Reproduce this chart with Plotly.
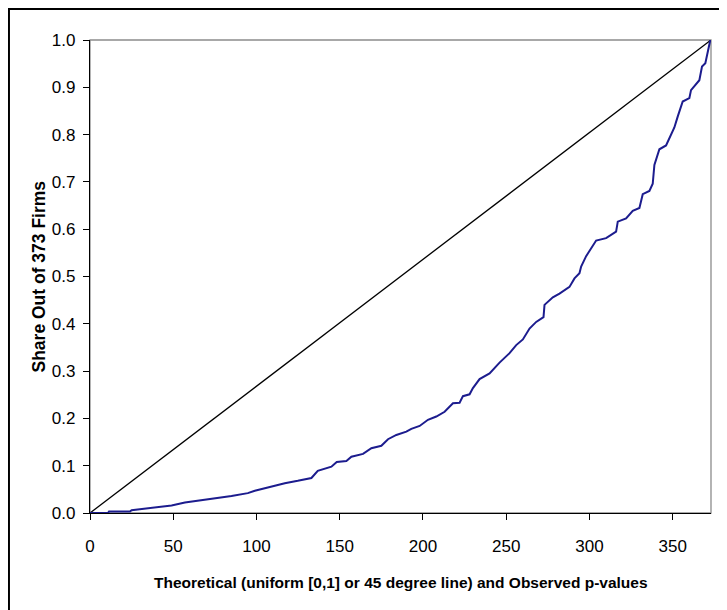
import plotly.graph_objects as go

# Observed sorted p-values (rank, share)
obs_rank = [0, 10.8, 11.4, 24, 25, 33, 40.8, 49, 57, 64.8, 75, 85, 94.8, 99, 106.8, 117,
            124.8, 133, 136.8, 145, 148.2, 154, 157, 164, 169, 175, 179, 184, 190, 193,
            198, 203, 208, 213, 218, 222, 224, 228, 230, 234, 240, 246, 252, 256, 260,
            264, 268, 272.4, 273, 278, 282, 288, 291, 294, 295, 298, 304, 310, 316, 317,
            322, 326, 330, 332, 336, 338, 339, 342, 346, 349, 351, 353, 356, 360, 361,
            366, 367.6, 369.6, 371, 372.4, 373]
obs_share = [0, 0, 0.003, 0.003, 0.006, 0.009, 0.012, 0.016, 0.022, 0.026, 0.030, 0.036,
             0.042, 0.047, 0.054, 0.063, 0.068, 0.074, 0.089, 0.098, 0.108, 0.110, 0.119,
             0.125, 0.137, 0.142, 0.156, 0.165, 0.172, 0.178, 0.184, 0.197, 0.204, 0.214,
             0.232, 0.233, 0.247, 0.251, 0.264, 0.283, 0.295, 0.318, 0.338, 0.355, 0.367,
             0.39, 0.404, 0.414, 0.44, 0.456, 0.464, 0.478, 0.496, 0.507, 0.521, 0.543,
             0.576, 0.581, 0.595, 0.616, 0.623, 0.639, 0.645, 0.674, 0.681, 0.696, 0.736,
             0.769, 0.777, 0.80, 0.815, 0.838, 0.87, 0.877, 0.894, 0.915, 0.944, 0.951,
             0.975, 0.997, 1.0]

# Theoretical 45 degree line
theo_rank = [0, 373]
theo_share = [0, 1]

x_ticks = [0, 50, 100, 150, 200, 250, 300, 350]
y_ticks = [0.0, 0.1, 0.2, 0.3, 0.4, 0.5, 0.6, 0.7, 0.8, 0.9, 1.0]

x_title = "Theoretical (uniform [0,1] or 45 degree line) and Observed p-values"
y_title = "Share Out of 373 Firms"

FONT = "Liberation Sans, Arial, sans-serif"

fig = go.Figure()
fig.add_trace(go.Scatter(x=theo_rank, y=theo_share, mode="lines",
                         line=dict(color="#000000", width=1.3), showlegend=False,
                         hoverinfo="skip"))
fig.add_trace(go.Scatter(x=obs_rank, y=obs_share, mode="lines",
                         line=dict(color="#1c1c8e", width=2), showlegend=False))

fig.update_layout(
    width=727, height=610,
    margin=dict(l=82, r=24, t=32, b=105),
    paper_bgcolor="white", plot_bgcolor="white",
    font=dict(family=FONT, color="#000000", size=17),
    xaxis=dict(range=[0, 373], tickvals=x_ticks, ticktext=[str(v) for v in x_ticks],
               showgrid=False, zeroline=False, showline=True, linecolor="#000000",
               linewidth=1.3, ticks="outside", ticklen=6, tickwidth=1.2,
               tickcolor="#000000", ticklabelstandoff=11,
               tickfont=dict(size=17, family=FONT)),
    yaxis=dict(range=[0, 1.0], tickvals=y_ticks, ticktext=[f"{v:.1f}" for v in y_ticks],
               showgrid=False, zeroline=False, showline=True, linecolor="#000000",
               linewidth=1.3, ticks="outside", ticklen=6, tickwidth=1.2,
               tickcolor="#000000", ticklabelstandoff=4,
               tickfont=dict(size=17, family=FONT)),
    shapes=[
        dict(type="rect", xref="paper", yref="paper", x0=0, x1=1, y0=0, y1=1,
             line=dict(color="#8c8c8c", width=1.3), layer="below"),
        dict(type="rect", xref="paper", yref="paper", x0=-0.1305, x1=1.06,
             y0=-0.24, y1=1.0655, line=dict(color="#000000", width=2), layer="below"),
    ],
    annotations=[
        dict(text=f"<b>{x_title}</b>", xref="paper", yref="paper", x=0.5, y=-0.1459,
             showarrow=False, xanchor="center", yanchor="middle",
             font=dict(size=15.5, family=FONT)),
        dict(text=f"<b>{y_title}</b>", xref="paper", yref="paper", x=-0.0837, y=0.5,
             showarrow=False, xanchor="center", yanchor="middle", textangle=-90,
             font=dict(size=17.5, family=FONT)),
    ],
)

fig.write_html("out.html")
